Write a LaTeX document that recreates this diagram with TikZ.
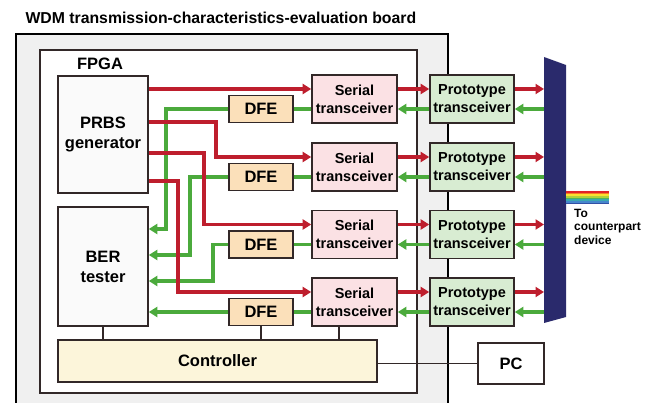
\documentclass[tikz,border=0pt]{standalone}
\usepackage{fontspec}
\setmainfont{Liberation Sans}
\usetikzlibrary{arrows.meta,calc}

\definecolor{sigred}{RGB}{190,30,45}
\definecolor{siggreen}{RGB}{75,170,60}
\definecolor{boxline}{RGB}{50,40,40}
\definecolor{boardgray}{RGB}{240,240,240}
\definecolor{genfill}{RGB}{250,250,250}
\definecolor{serfill}{RGB}{251,225,228}
\definecolor{profill}{RGB}{216,236,210}
\definecolor{dfefill}{RGB}{251,224,186}
\definecolor{ctlfill}{RGB}{252,245,218}
\definecolor{muxblue}{RGB}{42,42,108}
\definecolor{rb1}{RGB}{225,35,40}
\definecolor{rb2}{RGB}{245,125,35}
\definecolor{rb3}{RGB}{250,225,50}
\definecolor{rb4}{RGB}{175,210,60}
\definecolor{rb5}{RGB}{80,180,90}
\definecolor{rb6}{RGB}{60,170,175}
\definecolor{rb7}{RGB}{70,135,205}
\definecolor{rb8}{RGB}{50,80,165}

\tikzset{
  box/.style={draw=boxline, line width=1.6pt, inner sep=0pt, align=center,
    font=\bfseries\fontsize{16.5}{20}\selectfont},
  serbox/.style={box, fill=serfill, minimum width=85pt, minimum height=48pt,
    font=\bfseries\fontsize{14.5}{18}\selectfont},
  probox/.style={serbox, fill=profill, minimum width=84pt},
  dfebox/.style={box, fill=dfefill, minimum width=64pt, minimum height=27pt},
  redarr/.style={draw=sigred, line width=3.2pt, -{Triangle[length=8.5pt,width=10pt]}},
  grnarr/.style={draw=siggreen, line width=3.2pt, -{Triangle[length=8.5pt,width=10pt]}},
  grnline/.style={draw=siggreen, line width=3.2pt},
  ctlline/.style={draw=boxline, line width=1.6pt},
}

\begin{document}
\begin{tikzpicture}[x=1pt, y=-1pt]
			%%%%% START %%%%%
			\clip (0,0) rectangle (659,403);
			
			\node[anchor=west, font=\bfseries\fontsize{15.8}{18}\selectfont] (title) at (22,18) {WDM transmission-characteristics-evaluation board};
			
			\draw[line width=2.8pt, fill=boardgray] (16,34) rectangle (448,420);
			\draw[line width=1.4pt, draw=boxline, fill=white] (40,50) rectangle (417,393);
			\node[font=\bfseries\fontsize{16.5}{20}\selectfont] (fpga) at (100,64) {FPGA};
			
			\node[box, fill=genfill, minimum width=90pt, minimum height=117pt] (prbs) at (103,134.5) {PRBS\\generator};
			\node[box, fill=genfill, minimum width=90pt, minimum height=119pt] (ber) at (103,266.5) {BER\\tester};
			\node[box, fill=ctlfill, minimum width=319pt, minimum height=42pt] (ctrl) at (217.5,361) {Controller};
			\node[box, fill=white, minimum width=66pt, minimum height=41pt] (pc) at (511,363.5) {PC};
			
			% multiplexer and fibre
			\fill[muxblue] (544,57) -- (566,65) -- (566,317) -- (544,323) -- cycle;
			\coordinate (mux) at (544,190);
			\foreach \col [count=\k] in {rb1,rb2,rb3,rb4,rb5,rb6,rb7,rb8}
				\fill[\col] (566,{191+(\k-1)*1.65}) rectangle (609,{191+\k*1.65});
			\node[anchor=north west, align=left, inner sep=0pt, font=\bfseries\fontsize{12}{13.5}\selectfont] (dest) at (574,209) {To\\counterpart\\device};
			
			% transceiver rows
			\foreach \i/\c in {1/99,2/167,3/234.5,4/302}{
				\node[serbox] (ser\i) at (354.5,\c) {Serial\\transceiver};
				\node[probox] (pro\i) at (472,\c) {Prototype\\transceiver};
				\node[dfebox] (dfe\i) at (261,\c+10) {DFE};
				\coordinate (rin\i) at ([yshift=10pt]ser\i.west);
				\coordinate (rout\i) at ([yshift=10pt]pro\i.east);
				\coordinate (gout\i) at ([yshift=-10pt]pro\i.east);
				\draw[redarr] ([yshift=10pt]ser\i.east) -- ([yshift=10pt]pro\i.west);
				\draw[grnarr] ([yshift=-10pt]pro\i.west) -- ([yshift=-10pt]ser\i.east);
				\draw[grnline] ([yshift=-10pt]ser\i.west) -- (dfe\i.east);
				\draw[redarr] (rout\i) -- (rout\i -| mux);
				\draw[grnarr] (gout\i -| mux) -- (gout\i);
			}
			
			% DFE to BER tester
			\draw[grnarr] (dfe1.west) -| (166,229) -- (ber.east |- 0,229);
			\draw[grnarr] (dfe2.west) -| (190,255) -- (ber.east |- 0,255);
			\draw[grnarr] (dfe3.west) -| (213,281) -- (ber.east |- 0,281);
			\draw[grnarr] (dfe4.west) -- (ber.east |- dfe4.west);
			
			% PRBS generator to serial transceivers
			\draw[redarr] (prbs.east |- rin1) -- (rin1);
			\draw[redarr] (prbs.east |- 0,122) -| (rin2 -| 216,0) -- (rin2);
			\draw[redarr] (prbs.east |- 0,153) -| (rin3 -| 204,0) -- (rin3);
			\draw[redarr] (prbs.east |- 0,181) -| (rin4 -| 178,0) -- (rin4);
			
			% controller bus
			\draw[ctlline] (ber.south) -- (ber.south |- ctrl.north);
			\draw[ctlline] (dfe4.south) -- (dfe4.south |- ctrl.north);
			\draw[ctlline] (ser4.south -| 339,0) -- (ctrl.north -| 339,0);
			\draw[ctlline] (pc.west -| ctrl.east) -- (pc.west);
			
			%%%%% END %%%%%
\end{tikzpicture}
\end{document}
